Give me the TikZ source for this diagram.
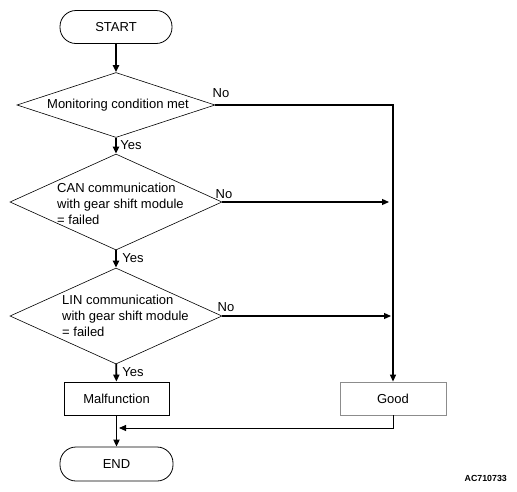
\documentclass[tikz,border=0pt]{standalone}
\usepackage{fontspec}
\setmainfont{Liberation Sans}
\usetikzlibrary{shapes.geometric,arrows.meta}
\begin{document}
\begin{tikzpicture}[x=1pt,y=-1pt,
 font=\fontsize{13}{16}\selectfont,
 box/.style={draw, line width=0.8pt, minimum width=105pt, minimum height=33pt, inner sep=0pt},
 term/.style={draw, line width=0.8pt, rounded corners=16pt, minimum width=112pt, minimum height=33pt, inner sep=0pt},
 dia/.style={draw, diamond, line width=0.6pt, inner sep=0pt},
 lbl/.style={inner sep=0pt},
 tip/.style={-{Triangle[length=7pt,width=6pt]}},
 mainarrow/.style={tip, line width=1.8pt},
 noarrow/.style={tip, line width=1.2pt},
 backarrow/.style={tip, line width=0.9pt},
]
\useasboundingbox (0,0) rectangle (517,491);
\node[term] (start) at (116,27) {START};
\node[dia, minimum width=198pt, minimum height=65pt] (d1) at (116,105) {};
\node[lbl] (t1) at (118,105) {Monitoring condition met};
\node[dia, minimum width=212pt, minimum height=96pt] (d2) at (116,202) {};
\node[lbl, align=left, anchor=west] (t2) at (57,204) {CAN communication\\with gear shift module\\= failed};
\node[dia, minimum width=212pt, minimum height=96pt] (d3) at (116,316) {};
\node[lbl, align=left, anchor=west] (t3) at (62,316) {LIN communication\\with gear shift module\\= failed};
\node[box] (mal) at (116.5,398.5) {Malfunction};
\node[box, draw=black!45, minimum width=106pt] (good) at (393,398.5) {Good};
\node[term, minimum width=113pt, minimum height=34pt] (end) at (116.5,464) {END};

\coordinate (c1) at (393,105);
\coordinate (e2) at (389,202);
\coordinate (e3) at (391,316);
\coordinate (j) at (393,428);
\coordinate (k) at (119,428);

\draw[mainarrow] (start) -- (d1);
\draw[mainarrow] (d1) -- (d2);
\draw[mainarrow] (d2) -- (d3);
\draw[mainarrow] (d3) -- (mal);
\draw[mainarrow] (mal) -- (end);
\draw[noarrow] (d1.east) -- (c1) -- (good);
\draw[noarrow] (d2.east) -- (e2);
\draw[noarrow] (d3.east) -- (e3);
\draw[backarrow] (good.south) -- (j) -- (k);

\node[lbl] (n1) at (221,93) {No};
\node[lbl] (n2) at (224,194) {No};
\node[lbl] (n3) at (226,307) {No};
\node[lbl] (y1) at (131,145) {Yes};
\node[lbl] (y2) at (133,258) {Yes};
\node[lbl] (y3) at (133,372) {Yes};
\node[lbl, anchor=east, font=\bfseries\fontsize{8.8}{10}\selectfont] (code) at (507,478) {AC710733};
\end{tikzpicture}
\end{document}
